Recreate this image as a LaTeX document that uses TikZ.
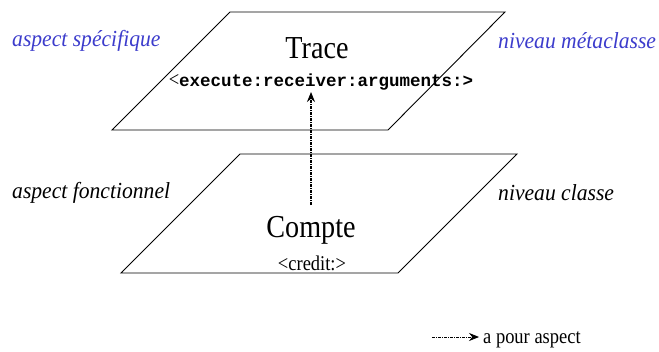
\documentclass[tikz,border=0pt]{standalone}
\usepackage{fontspec}
\setmainfont{Liberation Serif}[ItalicFont={Liberation Serif Italic}]
\newfontfamily\cond[FakeStretch=0.88]{Liberation Serif}
\newfontfamily\itcond[FakeStretch=0.94]{Liberation Serif Italic}
\newfontfamily\monob{Liberation Mono}
\usetikzlibrary{arrows.meta}
\definecolor{lblue}{RGB}{60,60,204}
\begin{document}
\begin{tikzpicture}[x=1pt,y=-1pt,
  plane/.style={draw=black, line width=0.9pt, line join=miter},
  side/.style={inner sep=0pt, anchor=west, font=\itcond\fontsize{23}{23}\selectfont},
  aspectarrow/.style={dash pattern=on 3pt off 1pt on 1pt off 1pt, line width=1.1pt, -{Stealth[length=10pt,width=8pt]}},
  big/.style={inner sep=0pt, font=\cond\fontsize{32}{32}\selectfont},
  small/.style={inner sep=0pt, font=\cond\fontsize{21}{21}\selectfont}]
\useasboundingbox (0,0) rectangle (659,351);
% planes
\draw[plane] (230,12) -- (505,12) -- (388,130) -- (112,130) -- cycle;
\draw[plane] (240,154) -- (517,154) -- (398,273) -- (121,273) -- cycle;
% texts in planes
\node[big] (trace) at (317,48) {Trace};
\node[inner sep=0pt] (msg) at (321,82) {{\cond\fontsize{21}{21}\selectfont<}{\monob\bfseries\fontsize{17.5}{18}\selectfont execute:receiver:arguments:>}};
\node[big] (compte) at (311,230) {Compte};
\node[small] (credit) at (312,263) {<credit:>};
% side labels
\node[side, text=lblue] (spec) at (12,41) {aspect spécifique};
\node[side, text=lblue] (meta) at (498,41) {niveau métaclasse};
\node[side] (fonc) at (12,193) {aspect fonctionnel};
\node[side] (cls) at (498,193) {niveau classe};
% main arrow
\coordinate (from) at (311,205);
\coordinate (to) at (311,92);
\draw[aspectarrow] (from) -- (to);
% legend
\node[small, anchor=west] (leg) at (483,340) {a pour aspect};
\coordinate (legstart) at (432,337);
\draw[aspectarrow, line width=0.8pt, shorten >=4pt] (legstart) -- (leg.west |- legstart);
\end{tikzpicture}
\end{document}
